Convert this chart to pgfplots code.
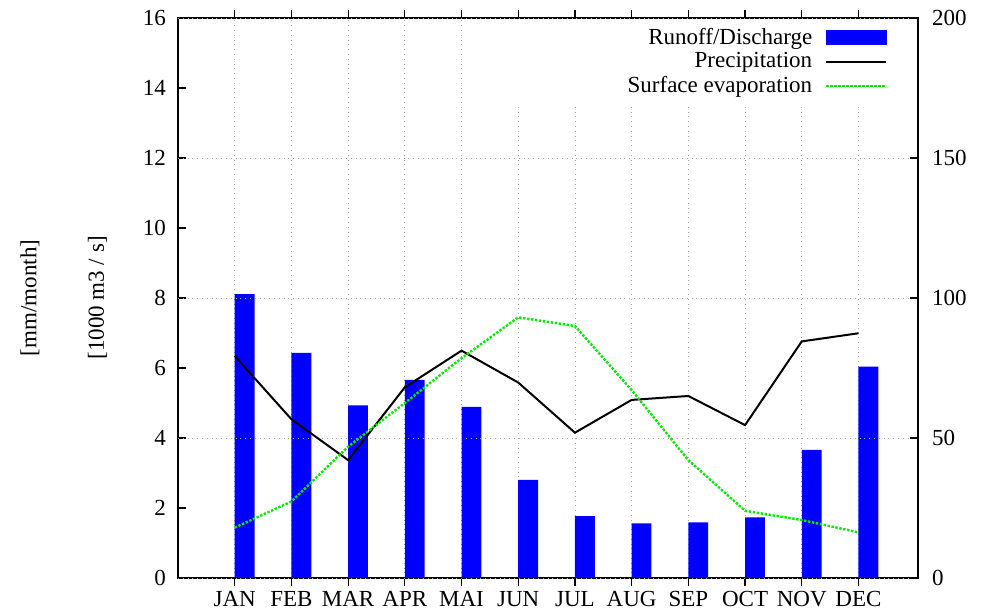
\documentclass[border=0pt]{standalone}
\usepackage{fontspec}
\setmainfont{Liberation Serif}
\usepackage{pgfplots}
\pgfplotsset{compat=1.18}
\definecolor{evapgreen}{RGB}{0,235,0}
\pgfplotsset{
  linelegend/.style={legend image code/.code={\path (0pt,0pt); \draw[##1] (4.5pt,0pt) -- (34.5pt,0pt);}},
  barlegend/.style={legend image code/.code={\path (0pt,0pt); \fill[blue] (4.5pt,-3.5pt) rectangle (34.5pt,3.5pt);}},
}
\begin{document}
\fontsize{11.5}{13}\selectfont
\begin{tikzpicture}
\path[use as bounding box] (0,0) rectangle (494pt,306.5pt);
\begin{axis}[
  at={(89pt,17.5pt)}, anchor=south west,
  scale only axis, width=370pt, height=280pt,
  clip mode=individual,
  xmin=0, xmax=13.05, ymin=0, ymax=16,
  xtick={1,2,3,4,5,6,7,8,9,10,11,12},
  xticklabels={JAN,FEB,MAR,APR,MAI,JUN,JUL,AUG,SEP,OCT,NOV,DEC},
  xtick pos=both, ytick={0,2,4,6,8,10,12,14,16}, ytick pos=left,
  tick align=inside,
  major tick length=4pt,
  xmajorgrids,
  major grid style={gray!70, dotted, line width=0.4pt},
  axis line style={line width=0.8pt},
  tick style={line width=0.6pt, black},
  ybar, bar width=0.35, bar shift=0.175,
  /pgf/number format/assume math mode=true,
  ticklabel style={font=\fontsize{11.5}{13}\selectfont},
  xticklabel style={yshift=1.5pt},
  yticklabel style={xshift=-2pt},
]
\addplot[fill=blue, draw=none] coordinates {
 (1,8.11) (2,6.43) (3,4.93) (4,5.66) (5,4.89) (6,2.80)
 (7,1.77) (8,1.56) (9,1.59) (10,1.73) (11,3.66) (12,6.04)};
\node[rotate=90] at (axis description cs:-0.2,0.5) {[mm/month]};
\node[rotate=90] at (axis description cs:-0.109,0.5) {[1000 m3 / s]};
\end{axis}
\begin{axis}[
  at={(89pt,17.5pt)}, anchor=south west,
  scale only axis, width=370pt, height=280pt,
  xmin=0, xmax=13.05, ymin=0, ymax=200,
  axis x line=none, axis y line*=right,
  ytick={0,50,100,150,200},
  tick align=inside,
  major tick length=4pt,
  ymajorgrids,
  major grid style={gray!70, dotted, line width=0.4pt},
  axis line style={line width=0.8pt},
  tick style={line width=0.6pt, black},
  /pgf/number format/assume math mode=true,
  ticklabel style={font=\fontsize{11.5}{13}\selectfont},
  yticklabel style={xshift=3pt},
  legend plot pos=right,
  legend cell align=right,
  legend style={at={(1,1)}, anchor=north east, xshift=-12pt, yshift=-0.8pt,
    draw=none, fill=white, row sep=-1.5pt,
    font=\fontsize{11.5}{13}\selectfont},
]
\addlegendimage{barlegend}
\addlegendentry{Runoff/Discharge}
\addplot[black, line width=1pt, linelegend] coordinates {
 (1,79.3) (2,56.7) (3,42.1) (4,68.1) (5,81.2) (6,69.8)
 (7,51.9) (8,63.6) (9,65.0) (10,54.6) (11,84.5) (12,87.4)};
\addlegendentry{Precipitation}
\addplot[evapgreen, line width=1.2pt, dash pattern=on 1.2pt off 0.8pt, linelegend] coordinates {
 (1,18.0) (2,27.3) (3,46.9) (4,62.5) (5,78.5) (6,93.1)
 (7,90.0) (8,67.1) (9,42.1) (10,24.0) (11,20.7) (12,16.3)};
\addlegendentry{\hspace*{50pt}Surface evaporation}
\end{axis}
\end{tikzpicture}
\end{document}
